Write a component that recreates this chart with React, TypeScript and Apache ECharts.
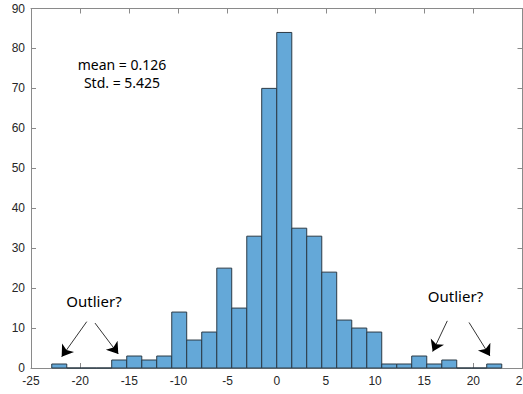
import React, { useEffect, useRef } from "react";
import * as echarts from "echarts";

// Histogram bin edges (31 edges -> 30 bins)
const binEdges = [
  -22.89, -21.36, -19.84, -18.31, -16.79, -15.26, -13.73, -12.21, -10.68, -9.16,
  -7.63, -6.1, -4.58, -3.05, -1.53, 0, 1.53, 3.05, 4.58, 6.1,
  7.63, 9.16, 10.68, 12.21, 13.73, 15.26, 16.79, 18.31, 19.84, 21.36, 22.89,
];
const counts = [
  1, 0, 0, 0, 2, 3, 2, 3, 14, 7, 9, 25, 15, 33, 70, 84, 35, 33, 24, 12, 10, 9, 1, 1,
  3, 1, 2, 0, 0, 1,
];
const xTicks = { min: -25, max: 25, interval: 5 };
const yTicks = { min: 0, max: 90, interval: 10 };

const statsText = ["mean = 0.126", "Std. = 5.425"];
const outlierLabel = "Outlier?";
// arrows in data coordinates: [start, end]
const arrows: [number, number][][] = [
  [[-19.33, 11.6], [-21.88, 2.8]],
  [[-18.49, 11.25], [-16.12, 3.5]],
  [[17.35, 11.8], [15.86, 4.1]],
  [[19.56, 11.4], [21.69, 3.0]],
];

export default function App() {
  const ref = useRef<HTMLDivElement>(null);
  useEffect(() => {
    if (!ref.current) return;
    const chart = echarts.init(ref.current, null, { renderer: "svg" });
    const histData = counts.map((c, i) => [binEdges[i], binEdges[i + 1], c]);
    const axisColor = "#8a8a8a";
    const labelColor = "#262626";
    const font = "'Liberation Sans', Arial, sans-serif";
    const annFont = "'Noto Sans', 'Open Sans', sans-serif";
    const baseX = {
      type: "value" as const,
      min: xTicks.min,
      max: xTicks.max,
      interval: xTicks.interval,
      splitLine: { show: false },
      axisLine: { show: true, onZero: false, lineStyle: { color: axisColor, width: 1 } },
      axisTick: { show: true, inside: true, length: 5, lineStyle: { color: axisColor } },
    };
    const baseY = {
      type: "value" as const,
      min: yTicks.min,
      max: yTicks.max,
      interval: yTicks.interval,
      splitLine: { show: false },
      axisLine: { show: true, onZero: false, lineStyle: { color: axisColor, width: 1 } },
      axisTick: { show: true, inside: true, length: 5, lineStyle: { color: axisColor } },
    };
    const textStyle = (size: number) => ({
      fontSize: size,
      fontFamily: annFont,
      fill: "#000",
      textAlign: "center",
      textVerticalAlign: "middle",
    });
    chart.setOption({
      animation: false,
      grid: {
        left: 31,
        top: 8.5,
        right: 0.5,
        bottom: 26,
        containLabel: false,
        outerBoundsMode: "none",
      },
      xAxis: [
        {
          ...baseX,
          position: "bottom",
          axisLabel: { color: labelColor, fontSize: 12, fontFamily: font, margin: 7 },
        },
        { ...baseX, position: "top", axisLabel: { show: false } },
      ],
      yAxis: [
        {
          ...baseY,
          position: "left",
          axisLabel: { color: labelColor, fontSize: 12, fontFamily: font, margin: 6 },
        },
        { ...baseY, position: "right", axisLabel: { show: false } },
      ],
      series: [
        {
          type: "custom",
          xAxisIndex: 0,
          yAxisIndex: 0,
          silent: true,
          data: histData,
          encode: { x: [0, 1], y: 2 },
          renderItem: (params: any, api: any) => {
            const p0 = api.coord([api.value(0), api.value(2)]);
            const p1 = api.coord([api.value(1), 0]);
            return {
              type: "rect",
              shape: { x: p0[0], y: p0[1], width: p1[0] - p0[0], height: p1[1] - p0[1] },
              style: { fill: "#64a8d8", stroke: "#2b3a46", lineWidth: 1 },
            };
          },
        },
        {
          type: "lines",
          coordinateSystem: "cartesian2d",
          xAxisIndex: 0,
          yAxisIndex: 0,
          silent: true,
          symbol: ["none", "arrow"],
          symbolSize: 11,
          lineStyle: { color: "#000", width: 0.8, opacity: 1, curveness: 0 },
          data: arrows.map((a) => ({ coords: a })),
          z: 5,
        },
      ],
      graphic: [
        { type: "text", x: 122, y: 64, style: { text: statsText[0], ...textStyle(14) } },
        { type: "text", x: 122, y: 82, style: { text: statsText[1], ...textStyle(14) } },
        { type: "text", x: 94, y: 301, style: { text: outlierLabel, ...textStyle(15) } },
        { type: "text", x: 455.5, y: 296, style: { text: outlierLabel, ...textStyle(15) } },
      ],
    });
    return () => chart.dispose();
  }, []);
  return (
    <div
      ref={ref}
      style={{ position: "absolute", left: 0, top: 0, width: 523, height: 394, background: "#fff" }}
    />
  );
}
